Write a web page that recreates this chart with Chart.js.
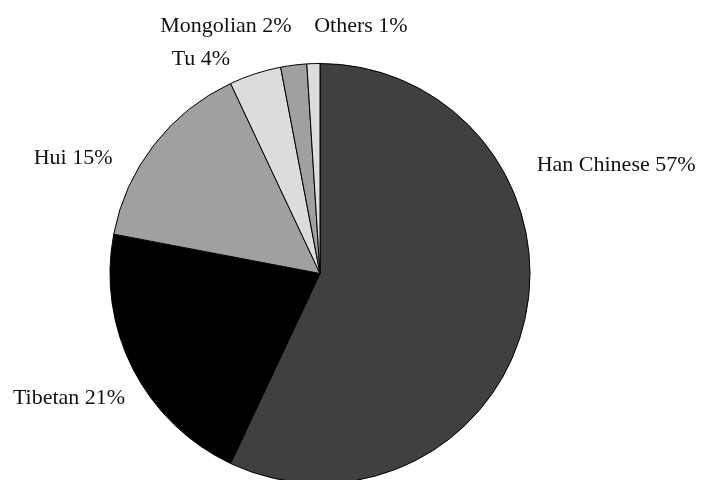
<!DOCTYPE html>
<html>
<head>
<meta charset="utf-8">
<script src="https://cdn.jsdelivr.net/npm/chart.js@4/dist/chart.umd.min.js"></script>
<style>
  html, body { margin: 0; padding: 0; background: #ffffff; overflow: hidden; }
  #wrap { width: 701px; height: 480px; }
</style>
</head>
<body>
<div id="wrap"><canvas id="pie" width="701" height="480"></canvas></div>
<script>
// Ethnic composition (percent of population)
const groups = ['Han Chinese', 'Tibetan', 'Hui', 'Tu', 'Mongolian', 'Others'];
const shares = [57, 21, 15, 4, 2, 1];
const sliceColors = ['#404040', '#000000', '#a0a0a0', '#dcdcdc', '#a0a0a0', '#dcdcdc'];

// Label anchor for each slice, in units of the pie radius from its centre
// (text is centred horizontally on the anchor and sits on its baseline).
const labelAnchors = [
  [1.410, -0.488],
  [-1.195, 0.621],
  [-1.176, -0.521],
  [-0.567, -0.993],
  [-0.448, -1.150],
  [0.195, -1.150]
];

const sliceLabels = {
  id: 'sliceLabels',
  afterDatasetsDraw(chart) {
    const ctx = chart.ctx;
    const meta = chart.getDatasetMeta(0);
    ctx.save();
    ctx.font = '22px "Liberation Serif", "Times New Roman", serif';
    ctx.fillStyle = '#111111';
    ctx.textAlign = 'center';
    ctx.textBaseline = 'alphabetic';
    meta.data.forEach((arc, i) => {
      const { x, y, outerRadius } = arc.getProps(['x', 'y', 'outerRadius'], true);
      const [ax, ay] = labelAnchors[i];
      const text = groups[i] + ' ' + shares[i] + '%';
      ctx.fillText(text, x + ax * outerRadius, y + ay * outerRadius);
    });
    ctx.restore();
  }
};

new Chart(document.getElementById('pie'), {
  type: 'pie',
  data: {
    labels: groups,
    datasets: [{
      data: shares,
      backgroundColor: sliceColors,
      borderColor: '#000000',
      borderWidth: 1,
      radius: 210,
      hoverOffset: 0
    }]
  },
  options: {
    responsive: false,
    animation: false,
    devicePixelRatio: 1,
    layout: { padding: { left: 0, right: 61, top: 67, bottom: 0 } },
    plugins: {
      legend: { display: false },
      tooltip: { enabled: false }
    }
  },
  plugins: [sliceLabels]
});
</script>
</body>
</html>
